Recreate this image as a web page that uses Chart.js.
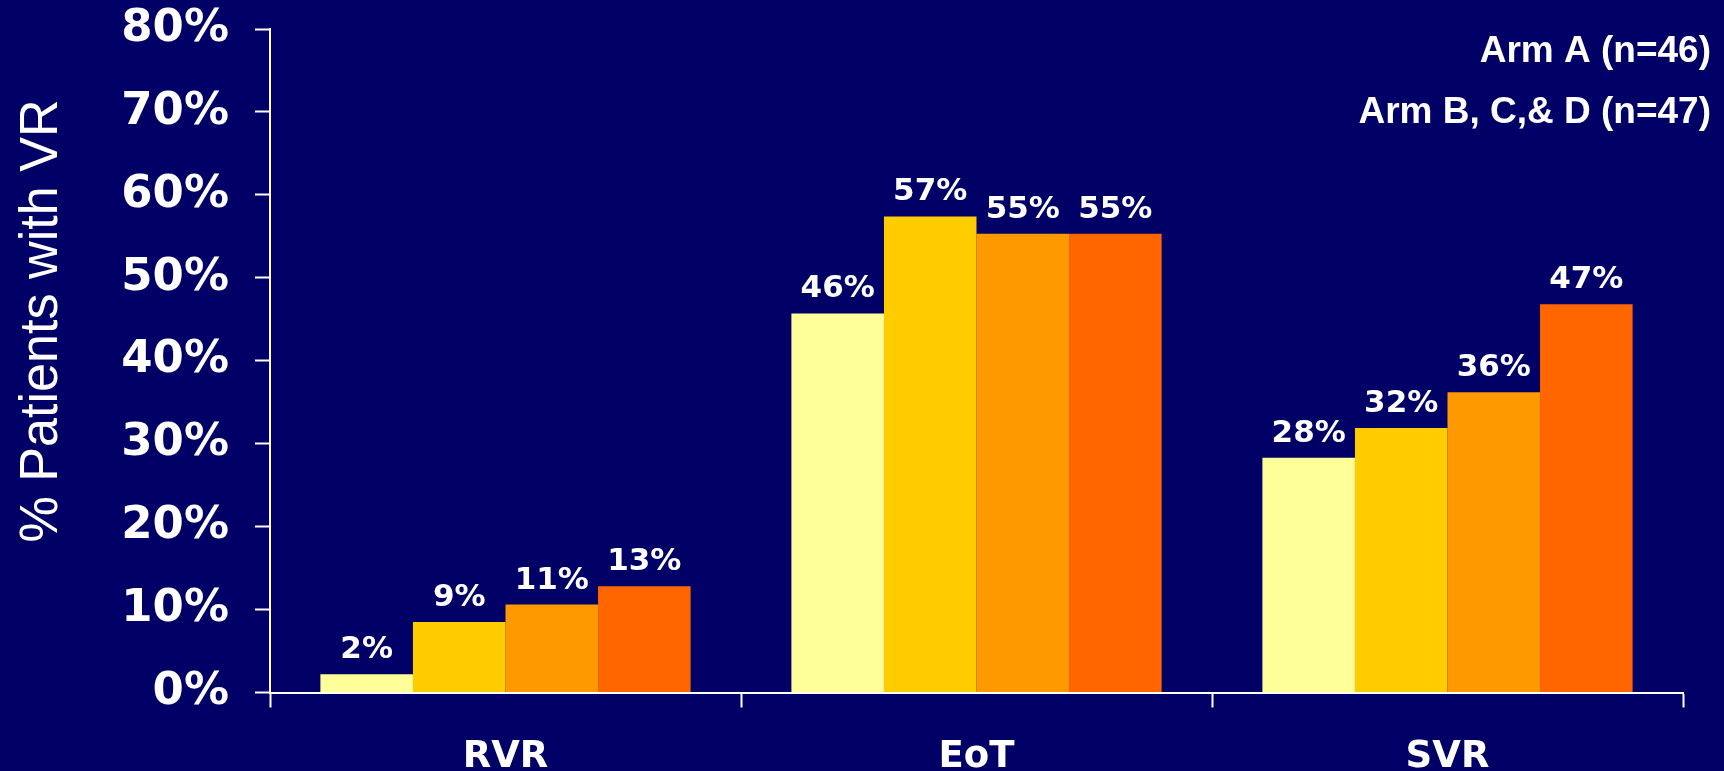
<!DOCTYPE html>
<html>
<head>
<meta charset="utf-8">
<script src="https://cdn.jsdelivr.net/npm/chart.js@4"></script>
<style>
    html, body { margin: 0; padding: 0; background: #000066; }
    #chart { display: block; }
</style>
</head>
<body>
<canvas id="chart" width="1724" height="771"></canvas>
<script>
// data
const categories = ['RVR', 'EoT', 'SVR'];
const armA = [2.2, 45.7, 28.3];
const armB = [8.5, 57.4, 31.9];
const armC = [10.6, 55.3, 36.2];
const armD = [12.8, 55.3, 46.8];
const seriesNames = ['Arm A', 'Arm B', 'Arm C', 'Arm D'];
const seriesColors = ['#FFFF99', '#FFCC00', '#FF9900', '#FF6600'];
const yTicks = [0, 10, 20, 30, 40, 50, 60, 70, 80];
const yTitle = '% Patients with VR';
const legendLines = ['Arm A (n=46)', 'Arm B, C,& D (n=47)'];

const boldFont = 'DejaVu Sans, Verdana, sans-serif';

// value labels above each bar
const barLabels = {
    id: 'barLabels',
    afterDatasetsDraw(chart) {
        const ctx = chart.ctx;
        ctx.save();
        ctx.fillStyle = '#ffffff';
        ctx.font = 'bold 31px ' + boldFont;
        ctx.textAlign = 'center';
        ctx.textBaseline = 'alphabetic';
        chart.data.datasets.forEach((ds, i) => {
            chart.getDatasetMeta(i).data.forEach((bar, j) => {
                ctx.fillText(Math.round(ds.data[j]) + '%', bar.x, bar.y - 16);
            });
        });
        ctx.restore();
    }
};

// n= notes top right and the rotated axis title
const slideText = {
    id: 'slideText',
    afterDraw(chart) {
        const ctx = chart.ctx;
        ctx.save();
        ctx.fillStyle = '#ffffff';
        ctx.font = 'bold 37px Liberation Sans, Arial, sans-serif';
        ctx.textAlign = 'right';
        ctx.textBaseline = 'alphabetic';
        ctx.fillText(legendLines[0], 1711, 62);
        ctx.fillText(legendLines[1], 1711, 123);
        ctx.restore();

        ctx.save();
        ctx.fillStyle = '#ffffff';
        ctx.font = '54px Liberation Sans, Arial, sans-serif';
        ctx.textAlign = 'center';
        ctx.textBaseline = 'middle';
        ctx.translate(42, 321);
        ctx.rotate(-Math.PI / 2);
        ctx.scale(0.965, 1);
        ctx.fillText(yTitle, 0, 0);
        ctx.restore();
    }
};

new Chart(document.getElementById('chart'), {
    type: 'bar',
    data: {
        labels: categories,
        datasets: [armA, armB, armC, armD].map((values, i) => ({
            label: seriesNames[i],
            data: values,
            backgroundColor: seriesColors[i],
            borderWidth: 0,
            barPercentage: 1.0,
            categoryPercentage: 0.786
        }))
    },
    options: {
        responsive: false,
        devicePixelRatio: 1,
        animation: false,
        layout: {
            padding: { top: 29, right: 41, bottom: 0, left: 0 }
        },
        plugins: {
            legend: { display: false },
            tooltip: { enabled: false }
        },
        scales: {
            x: {
                afterFit: scale => { scale.height = 78.5; },
                grid: {
                    offset: true,
                    drawOnChartArea: false,
                    color: '#ffffff',
                    tickLength: 15,
                    tickWidth: 2
                },
                border: { color: '#ffffff', width: 2 },
                ticks: {
                    color: '#ffffff',
                    font: { family: boldFont, weight: 'bold', size: 37 },
                    padding: 28
                }
            },
            y: {
                min: 0,
                max: 80,
                afterFit: scale => {
                    scale.width = 270;
                    scale.paddingTop = 0;
                    scale.paddingBottom = 0;
                },
                afterBuildTicks: scale => {
                    scale.ticks = yTicks.map(v => ({ value: v }));
                },
                grid: {
                    drawOnChartArea: false,
                    color: '#ffffff',
                    tickLength: 15,
                    tickWidth: 2
                },
                border: { color: '#ffffff', width: 2 },
                ticks: {
                    color: '#ffffff',
                    font: { family: boldFont, weight: 'bold', size: 45 },
                    padding: 26,
                    callback: v => v + '%'
                }
            }
        }
    },
    plugins: [barLabels, slideText]
});
</script>
</body>
</html>
